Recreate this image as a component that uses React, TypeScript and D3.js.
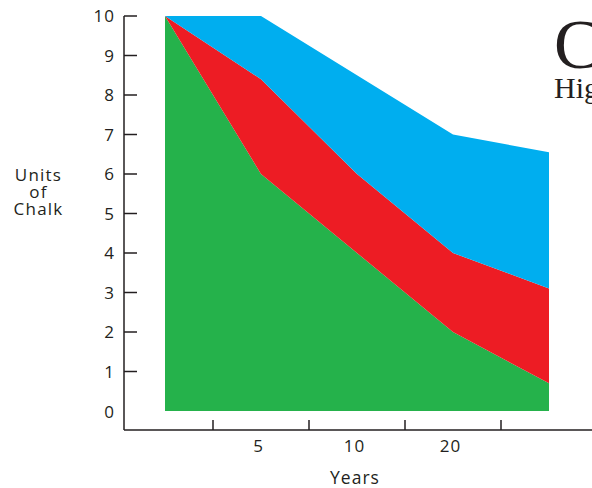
import React, { useEffect, useRef } from 'react';
import * as d3 from 'd3';

// x positions (first and last point carry no label)
const periods = ['start', '5', '10', '20', 'end'];
const periodLabels = ['', '5', '10', '20', ''];

// stacked layers, bottom to top
const greenValues = [10, 6, 4, 2, 0.7];
const redValues = [0, 2.4, 2, 2, 2.4];
const blueValues = [0, 1.6, 2.5, 3, 3.45];

const layerKeys = ['green', 'red', 'blue'];
const layerColors = ['#25b24b', '#ed1c24', '#00aeef'];

const yTicks = [0, 1, 2, 3, 4, 5, 6, 7, 8, 9, 10];

const App: React.FC = () => {
  const svgRef = useRef<SVGSVGElement>(null);

  useEffect(() => {
    if (!svgRef.current) return;
    const svg = d3.select(svgRef.current);
    svg.selectAll('*').remove();

    const font = "'Open Sans', 'DejaVu Sans', sans-serif";
    const serif = "'Liberation Serif', 'DejaVu Serif', serif";
    const ink = '#231f20';

    const rows = periods.map((p, i) => ({
      period: p,
      green: greenValues[i],
      red: redValues[i],
      blue: blueValues[i],
    }));

    const x = d3.scaleBand().domain(periods).range([117, 597]);
    const xc = (p: string) => (x(p) as number) + x.bandwidth() / 2;
    const y = d3.scaleLinear().domain([0, 10]).range([411, 16]);

    const stacked = d3.stack<any>().keys(layerKeys)(rows);
    const area = d3.area<any>()
      .x(d => xc(d.data.period))
      .y0(d => y(d[0]))
      .y1(d => y(d[1]));

    svg.append('g')
      .selectAll('path')
      .data(stacked)
      .join('path')
      .attr('fill', (_, i) => layerColors[i])
      .attr('d', area as any);

    // y axis: ticks point inward, labels on the left
    const yAxis = svg.append('g');
    yAxis.append('line')
      .attr('x1', 124).attr('x2', 124)
      .attr('y1', y(10)).attr('y2', 430)
      .attr('stroke', ink).attr('stroke-width', 1.5);
    yAxis.selectAll('line.tick')
      .data(yTicks.filter(t => t > 0))
      .join('line')
      .attr('class', 'tick')
      .attr('x1', 124).attr('x2', 137)
      .attr('y1', d => y(d)).attr('y2', d => y(d))
      .attr('stroke', ink).attr('stroke-width', 1.5);
    yAxis.selectAll('text')
      .data(yTicks)
      .join('text')
      .attr('x', 115)
      .attr('y', d => y(d) + (d === 0 ? 1 : 0))
      .attr('dy', '0.36em')
      .attr('text-anchor', 'end')
      .attr('font-family', font)
      .attr('font-size', 17)
      .attr('letter-spacing', 1)
      .attr('fill', ink)
      .text(d => d);

    // x axis: ticks between the points, labels on the points
    const xAxis = svg.append('g');
    xAxis.append('line')
      .attr('x1', 124).attr('x2', 592)
      .attr('y1', 430).attr('y2', 430)
      .attr('stroke', ink).attr('stroke-width', 1.5);
    xAxis.selectAll('line.tick')
      .data(periods.slice(1))
      .join('line')
      .attr('class', 'tick')
      .attr('x1', d => x(d) as number).attr('x2', d => x(d) as number)
      .attr('y1', 420).attr('y2', 430)
      .attr('stroke', ink).attr('stroke-width', 1.5);
    xAxis.selectAll('text')
      .data(periods)
      .join('text')
      .attr('x', d => xc(d) - 2.5)
      .attr('y', 452)
      .attr('text-anchor', 'middle')
      .attr('font-family', font)
      .attr('font-size', 17)
      .attr('letter-spacing', 1)
      .attr('fill', ink)
      .text((_, i) => periodLabels[i]);

    svg.append('text')
      .attr('x', 355).attr('y', 484)
      .attr('text-anchor', 'middle')
      .attr('font-family', font).attr('font-size', 17.5)
      .attr('letter-spacing', 1)
      .attr('fill', ink)
      .text('Years');

    const yTitle = svg.append('text')
      .attr('text-anchor', 'middle')
      .attr('font-family', font).attr('font-size', 17)
      .attr('letter-spacing', 1.2)
      .attr('fill', ink);
    ['Units', 'of', 'Chalk'].forEach((t, i) => {
      yTitle.append('tspan').attr('x', 38.5).attr('y', 181 + i * 17).text(t);
    });

    svg.append('text')
      .attr('x', 554).attr('y', 68)
      .attr('font-family', serif)
      .attr('font-size', 69)
      .attr('fill', ink)
      .text('Chalk');
    svg.append('text')
      .attr('x', 554).attr('y', 98)
      .attr('font-family', serif)
      .attr('font-size', 30)
      .attr('fill', ink)
      .text('Highlights');
  }, []);

  return (
    <svg
      ref={svgRef}
      width={592}
      height={488}
      style={{ position: 'absolute', left: 0, top: 0, background: '#fff' }}
    />
  );
};

export default App;
